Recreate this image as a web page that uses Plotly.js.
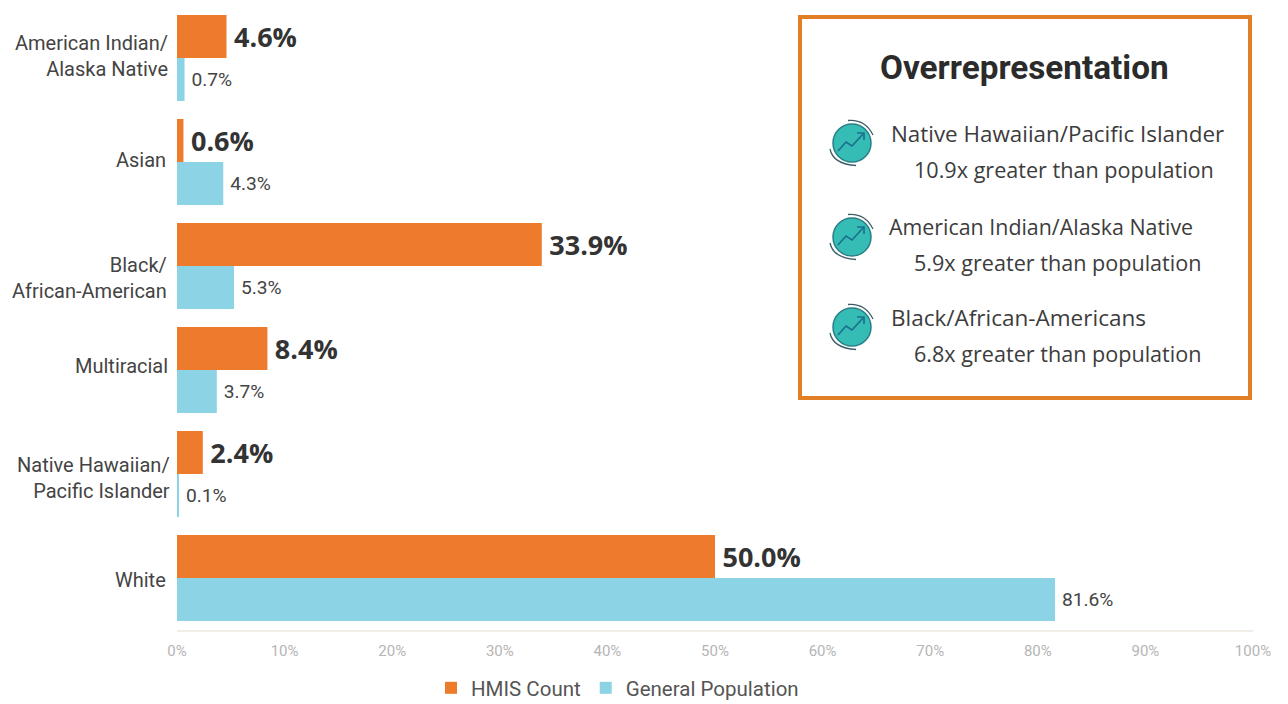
<!DOCTYPE html>
<html>
<head>
<meta charset="utf-8">
<script src="https://cdn.plot.ly/plotly-3.0.1.min.js"></script>
<style>html,body{margin:0;padding:0;background:#fff}#chart{width:1288px;height:704px}</style>
</head>
<body>
<div id="chart"></div>
<script>
const categories = ["American Indian/<br>Alaska Native", "Asian", "Black/<br>African-American", "Multiracial", "Native Hawaiian/<br>Pacific Islander", "White"];
const hmisCount = [4.6, 0.6, 33.9, 8.4, 2.4, 50.0];
const generalPopulation = [0.7, 4.3, 5.3, 3.7, 0.1, 81.6];
const labelShiftY = [2, 2, -11.5, 4, -3.5, -2];
const labelShiftX = [0, -2, -1, 0, 2, -2];
const boxLines = [
  ["Native Hawaiian/Pacific Islander", 889, 133.5, 22.4],
  ["10.9x greater than population", 912, 170, 21.6],
  ["American Indian/Alaska Native", 887, 227, 21.4],
  ["5.9x greater than population", 912, 262.5, 21.6],
  ["Black/African-Americans", 889, 317.5, 22.5],
  ["6.8x greater than population", 912, 353.5, 21.6]
];
const iconCentres = [[852, 143], [852, 237], [852, 327]];

const L = 177, R = 1253, T = 6, B = 630;
const px = x => (x - L) / (R - L);
const py = y => (B - y) / (B - T);
const P = (x, y) => px(x).toFixed(5) + "," + py(y).toFixed(5);

const shapes = [{
  type: "rect", xref: "paper", yref: "paper",
  x0: px(800), x1: px(1250), y0: py(398), y1: py(17),
  line: {color: "#E17F26", width: 4}, fillcolor: "rgba(255,255,255,0)"
}];
iconCentres.forEach(([cx, cy]) => {
  shapes.push({
    type: "circle", xref: "paper", yref: "paper",
    x0: px(cx - 19), x1: px(cx + 19), y0: py(cy + 19), y1: py(cy - 19),
    fillcolor: "#35BDB5", line: {color: "#2A7F86", width: 1.5}
  });
  const arc = (x0, y0, qx, qy, x1, y1) => ({
    type: "path", xref: "paper", yref: "paper",
    path: "M" + P(cx + x0, cy + y0) + " Q" + P(cx + qx, cy + qy) + " " + P(cx + x1, cy + y1),
    line: {color: "#3F5F68", width: 1.3}
  });
  shapes.push(arc(-4, -22.5, 13, -24, 21, -8));
  shapes.push(arc(-22, 6, -19, 21, 4, 22.5));
  shapes.push({
    type: "path", xref: "paper", yref: "paper",
    path: "M" + P(cx - 14, cy + 8) + " L" + P(cx - 6, cy - 1) + " L" + P(cx, cy + 3) + " L" + P(cx + 11, cy - 9),
    line: {color: "#1C6E8C", width: 1.6}
  });
  shapes.push({
    type: "path", xref: "paper", yref: "paper",
    path: "M" + P(cx + 5, cy - 10) + " L" + P(cx + 12, cy - 10) + " L" + P(cx + 12, cy - 3),
    line: {color: "#1C6E8C", width: 1.6}
  });
});

const annotations = [{
  text: "<b>Overrepresentation</b>", xref: "paper", yref: "paper",
  x: px(1024), y: py(67), xanchor: "center", yanchor: "middle", showarrow: false,
  font: {family: "Roboto, sans-serif", size: 33.3, color: "#2B2B2B"}
}].concat(boxLines.map(([text, x, y, size]) => ({
  text, xref: "paper", yref: "paper", x: px(x), y: py(y),
  xanchor: "left", yanchor: "middle", showarrow: false,
  font: {family: "'Open Sans', sans-serif", size, color: "#3C3C3C"}
}))).concat(categories.map((c, i) => ({
  text: c, xref: "paper", yref: "y", x: 0, y: c,
  xanchor: "right", yanchor: "middle", align: "right", showarrow: false,
  xshift: -7 + labelShiftX[i], yshift: labelShiftY[i],
  font: {family: "Roboto, sans-serif", size: 20, color: "#444444"}
})));

const traces = [{
  type: "bar", orientation: "h", name: "HMIS Count",
  y: categories, x: hmisCount,
  marker: {color: "#EE7A2B"},
  text: hmisCount.map(v => "\u2009" + v.toFixed(1) + "%"),
  textposition: "outside", cliponaxis: false, constraintext: "none",
  textfont: {family: "'Open Sans', sans-serif", size: 27, color: "#333333", weight: 700},
  hoverinfo: "skip"
}, {
  type: "bar", orientation: "h", name: "General Population",
  y: categories, x: generalPopulation,
  marker: {color: "#8CD3E6"},
  text: generalPopulation.map(v => "\u2009" + v.toFixed(1) + "%"),
  textposition: "outside", cliponaxis: false, constraintext: "none",
  textfont: {family: "Roboto, sans-serif", size: 19.2, color: "#444444"},
  hoverinfo: "skip"
}];

const layout = {
  width: 1288, height: 704,
  margin: {l: L, r: 1288 - R, t: T, b: 704 - B, pad: 0, autoexpand: false},
  paper_bgcolor: "#ffffff", plot_bgcolor: "#ffffff",
  barmode: "group", bargap: 0.173, bargroupgap: 0,
  showlegend: true,
  legend: {
    orientation: "h", xref: "paper", yref: "paper",
    x: px(431), xanchor: "left", y: py(708), yanchor: "bottom",
    font: {family: "Roboto, sans-serif", size: 20.5, color: "#555555"},
    itemsizing: "constant", traceorder: "normal", itemwidth: 30
  },
  xaxis: {
    range: [0, 100], tickvals: [0, 10, 20, 30, 40, 50, 60, 70, 80, 90, 100],
    ticktext: ["0%", "10%", "20%", "30%", "40%", "50%", "60%", "70%", "80%", "90%", "100%"],
    showgrid: false, zeroline: false, showline: true, linecolor: "#F1EEE8", linewidth: 2,
    ticks: "outside", ticklen: 6, tickcolor: "rgba(255,255,255,0)",
    tickfont: {family: "Roboto, sans-serif", size: 15, color: "#B5B5B5"},
    automargin: false
  },
  yaxis: {
    autorange: "reversed", showgrid: false, zeroline: false, showline: false,
    showticklabels: false, ticks: "", automargin: false
  },
  shapes, annotations
};
Plotly.newPlot("chart", traces, layout, {displayModeBar: false, responsive: false});
</script>
</body>
</html>
